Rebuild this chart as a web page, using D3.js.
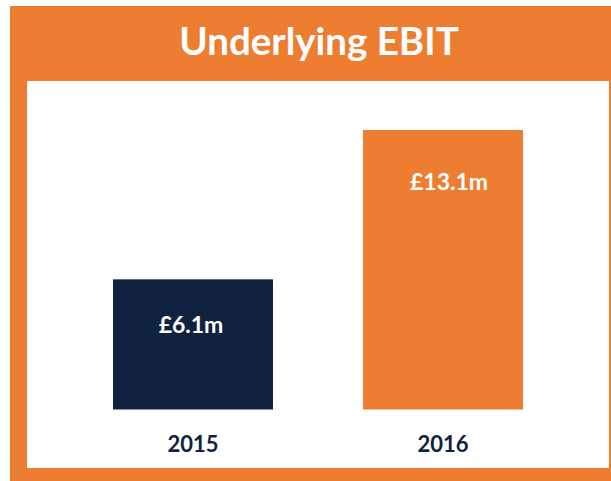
<!DOCTYPE html>
<html>
<head>
<meta charset="utf-8">
<script src="https://cdn.jsdelivr.net/npm/d3@7"></script>
<style>
  body { margin: 0; background: #fff; }
  text { font-family: Lato, "Open Sans", sans-serif; font-weight: bold; }
</style>
</head>
<body>
<div id="chart"></div>
<script>
const WIDTH = 611;
const HEIGHT = 481;

var years = ["2015", "2016"];
var values = [6.1, 13.1];
var labels = ["£6.1m", "£13.1m"];
var colors = { orange: "#ED7D31", navy: "#0F2341" };
var barColors = [colors.navy, colors.orange];

var svg = d3.select("#chart").append("svg")
    .attr("width", WIDTH)
    .attr("height", HEIGHT);

// frame
svg.append("rect")
    .attr("x", 10).attr("y", 6)
    .attr("width", WIDTH - 10).attr("height", 475)
    .attr("fill", colors.orange);

svg.append("rect")
    .attr("x", 27).attr("y", 81)
    .attr("width", 582).attr("height", 387)
    .attr("fill", "#fff");

svg.append("text")
    .attr("x", 319).attr("y", 55)
    .attr("text-anchor", "middle")
    .attr("fill", "#fff")
    .attr("font-size", 38.5)
    .text("Underlying EBIT");

var x = d3.scaleBand()
    .domain(years)
    .range([68, 568])
    .paddingInner(0.36)
    .paddingOuter(0.18);

var y = d3.scaleLinear()
    .domain([0, 13.1])
    .range([409.5, 130]);

var bars = svg.selectAll(".bar")
    .data(years)
    .enter().append("g")
    .attr("class", "bar");

bars.append("rect")
    .attr("x", d => x(d))
    .attr("y", (d, i) => y(values[i]))
    .attr("width", x.bandwidth())
    .attr("height", (d, i) => y(0) - y(values[i]))
    .attr("fill", (d, i) => barColors[i]);

bars.append("text")
    .attr("x", (d, i) => x(d) + x.bandwidth() / 2 + (i == 1 ? 6 : -2))
    .attr("y", (d, i) => y(values[i]) + (i == 1 ? 60 : 54))
    .attr("text-anchor", "middle")
    .attr("fill", "#fff")
    .attr("font-size", 23)
    .text((d, i) => labels[i]);

// category axis
var axis = svg.append("g")
    .attr("transform", "translate(0," + y(0) + ")")
    .call(d3.axisBottom(x).tickSize(0).tickPadding(0));
axis.select(".domain").remove();
axis.selectAll("text")
    .attr("dy", 0)
    .attr("y", 42)
    .attr("font-size", 22)
    .attr("font-family", "Lato, sans-serif")
    .attr("fill", colors.navy);
</script>
</body>
</html>
